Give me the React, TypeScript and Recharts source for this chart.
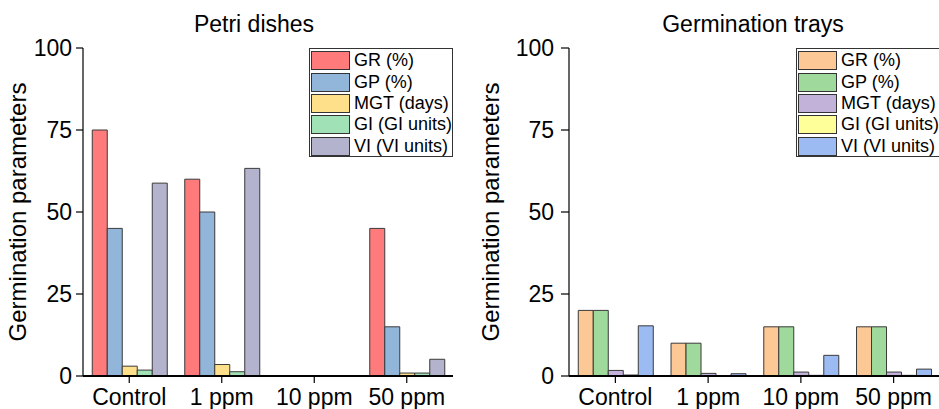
import React from 'react';
import { BarChart, Bar, XAxis, YAxis } from 'recharts';

const categories = ['Control', '1 ppm', '10 ppm', '50 ppm'];
const seriesKeys = ['GR', 'GP', 'MGT', 'GI', 'VI'];
const seriesNames = ['GR (%)', 'GP (%)', 'MGT (days)', 'GI (GI units)', 'VI (VI units)'];

const petriGR = [75, 60, 0, 45];
const petriGP = [45, 50, 0, 15];
const petriMGT = [3, 3.5, 0, 0.9];
const petriGI = [1.8, 1.3, 0, 0.9];
const petriVI = [58.8, 63.3, 0, 5.1];

const trayGR = [20, 10, 15, 15];
const trayGP = [20, 10, 15, 15];
const trayMGT = [1.7, 0.8, 1.2, 1.2];
const trayGI = [0.3, 0.1, 0.2, 0.2];
const trayVI = [15.3, 0.7, 6.3, 2.1];

const yTicks = [0, 25, 50, 75, 100];
const yMinorTicks = [12.5, 37.5, 62.5, 87.5];
const bandEdges = [0, 1, 2, 3, 4];

const petriColors = ['#FF7B7B', '#92B5DA', '#FFE08A', '#A0E2B6', '#B3B3CD'];
const trayColors = ['#FBC896', '#9FD99B', '#C2B1D8', '#FFFF9A', '#9CBBF2'];

const FONT = '"Liberation Sans", Arial, sans-serif';

function buildRows(series: number[][]) {
  return categories.map((name, i) => {
    const row: Record<string, any> = { name };
    seriesKeys.forEach((k, j) => {
      row[k] = series[j][i];
    });
    return row;
  });
}

const petriData = buildRows([petriGR, petriGP, petriMGT, petriGI, petriVI]);
const trayData = buildRows([trayGR, trayGP, trayMGT, trayGI, trayVI]);

const YLabel = (props: any) => {
  const vb = props.viewBox || {};
  const cy = (vb.y ?? 48) + (vb.height ?? 328) / 2;
  const lx = props.lx;
  return (
    <text
      x={lx}
      y={cy}
      transform={`rotate(-90 ${lx} ${cy})`}
      textAnchor="middle"
      fontSize={24}
      fontFamily={FONT}
      fill="#000"
    >
      {props.text}
    </text>
  );
};

type PanelProps = {
  title: string;
  titleCenter: number;
  data: any[];
  colors: string[];
  left: number;
  width: number;
  marginRight: number;
  yAxisWidth: number;
  labelX: number;
  legendLeft: number;
  tickSize: number;
  tickMargin: number;
};

const Panel = (p: PanelProps) => {
  return (
    <div style={{ position: 'absolute', left: p.left, top: 0, width: p.width, height: 409 }}>
      <div
        style={{
          position: 'absolute',
          left: p.titleCenter - 150,
          width: 300,
          top: 12.5,
          textAlign: 'center',
          fontFamily: FONT,
          fontSize: 23,
          lineHeight: '23px',
          color: '#000',
          whiteSpace: 'nowrap',
        }}
      >
        {p.title}
      </div>
      <BarChart
        width={p.width}
        height={409}
        data={p.data}
        margin={{ top: 48, right: p.marginRight, bottom: 0, left: 0 }}
        barCategoryGap="10%"
        barGap={0}
        style={{ position: 'absolute', left: 0, top: 0 }}
      >
        <XAxis
          xAxisId="b"
          dataKey="name"
          orientation="bottom"
          height={33}
          interval={0}
          tickSize={7}
          tickMargin={6}
          tick={{ fontSize: 23, fill: '#000', fontFamily: FONT }}
          axisLine={{ stroke: '#000', strokeWidth: 2 }}
          tickLine={{ stroke: '#000', strokeWidth: 1.2 }}
        />
        <XAxis
          xAxisId="bm"
          type="number"
          domain={[0, 4]}
          ticks={bandEdges}
          allowDataOverflow
          orientation="bottom"
          height={0}
          tick={false}
          tickSize={4}
          axisLine={false}
          tickLine={{ stroke: '#000', strokeWidth: 1.2 }}
        />
        <XAxis
          xAxisId="t"
          dataKey="name"
          orientation="top"
          height={0}
          mirror
          interval={0}
          tick={false}
          tickSize={6}
          axisLine={{ stroke: '#000', strokeWidth: 1.2 }}
          tickLine={{ stroke: '#000', strokeWidth: 1.2 }}
        />
        <XAxis
          xAxisId="tm"
          type="number"
          domain={[0, 4]}
          ticks={bandEdges}
          allowDataOverflow
          orientation="top"
          height={0}
          mirror
          tick={false}
          tickSize={4}
          axisLine={false}
          tickLine={{ stroke: '#000', strokeWidth: 1.2 }}
        />
        <YAxis
          yAxisId="l"
          domain={[0, 100]}
          ticks={yTicks}
          interval={0}
          width={p.yAxisWidth}
          tickSize={p.tickSize}
          tickMargin={p.tickMargin}
          tick={{ fontSize: 23, fill: '#000', fontFamily: FONT }}
          axisLine={{ stroke: '#000', strokeWidth: 1.2 }}
          tickLine={{ stroke: '#000', strokeWidth: 1.2 }}
          label={<YLabel lx={p.labelX} text="Germination parameters" />}
        />
        <YAxis
          yAxisId="lm"
          domain={[0, 100]}
          ticks={yMinorTicks}
          interval={0}
          width={0}
          tick={false}
          tickSize={4}
          axisLine={false}
          tickLine={{ stroke: '#000', strokeWidth: 1.2 }}
        />
        <YAxis
          yAxisId="r"
          orientation="right"
          mirror
          domain={[0, 100]}
          ticks={yTicks}
          interval={0}
          width={0}
          tick={false}
          tickSize={6}
          axisLine={{ stroke: '#000', strokeWidth: 1.2 }}
          tickLine={{ stroke: '#000', strokeWidth: 1.2 }}
        />
        <YAxis
          yAxisId="rm"
          orientation="right"
          mirror
          domain={[0, 100]}
          ticks={yMinorTicks}
          interval={0}
          width={0}
          tick={false}
          tickSize={3}
          axisLine={false}
          tickLine={{ stroke: '#000', strokeWidth: 1.2 }}
        />
        {seriesKeys.map((k, j) => (
          <Bar
            key={k}
            dataKey={k}
            name={seriesNames[j]}
            xAxisId="b"
            yAxisId="l"
            fill={p.colors[j]}
            stroke="#3a3a3a"
            strokeWidth={1}
            isAnimationActive={false}
          />
        ))}
      </BarChart>
      <div
        style={{
          position: 'absolute',
          left: p.legendLeft,
          top: 48,
          width: 144,
          height: 109,
          boxSizing: 'border-box',
          border: '1px solid #333',
          background: '#fff',
          padding: '1px 0 0 1px',
          fontFamily: FONT,
        }}
      >
        {seriesNames.map((n, j) => (
          <div key={n} style={{ display: 'flex', alignItems: 'center', height: 21.4 }}>
            <div
              style={{
                width: 39,
                height: 19,
                boxSizing: 'border-box',
                background: p.colors[j],
                border: '1px solid #333',
                flex: 'none',
              }}
            />
            <span style={{ marginLeft: 4, fontSize: 18, lineHeight: '19px', whiteSpace: 'nowrap', color: '#000' }}>
              {n}
            </span>
          </div>
        ))}
      </div>
    </div>
  );
};

export default function App() {
  return (
    <div
      style={{
        position: 'absolute',
        left: 0,
        top: 0,
        width: 939,
        height: 409,
        overflow: 'hidden',
        background: '#fff',
      }}
    >
      <Panel
        title="Petri dishes"
        titleCenter={254}
        data={petriData}
        colors={petriColors}
        left={0}
        width={470}
        marginRight={17}
        yAxisWidth={83}
        labelX={26}
        legendLeft={309}
        tickSize={7}
        tickMargin={4}
      />
      <Panel
        title="Germination trays"
        titleCenter={283}
        data={trayData}
        colors={trayColors}
        left={470}
        width={480}
        marginRight={10}
        yAxisWidth={99}
        labelX={29}
        legendLeft={326}
        tickSize={8}
        tickMargin={7}
      />
    </div>
  );
}
